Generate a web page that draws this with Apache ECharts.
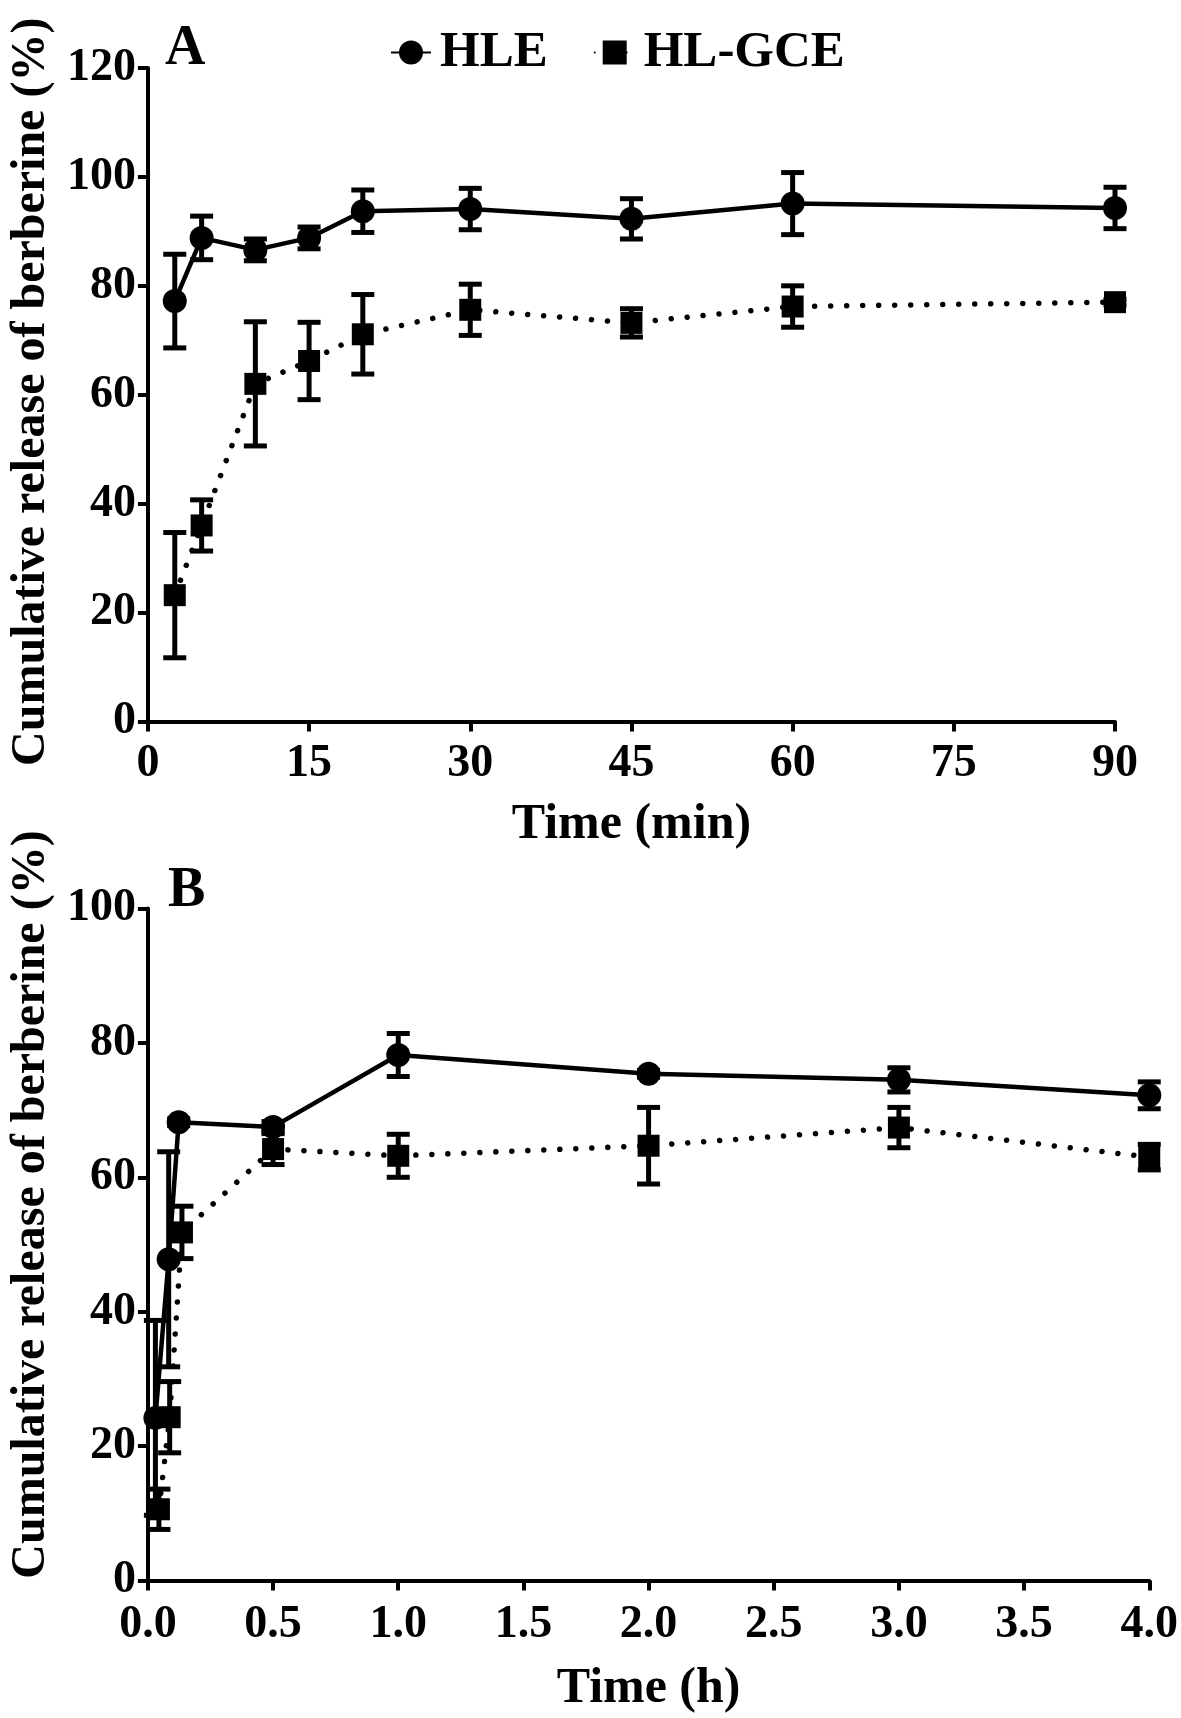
<!DOCTYPE html>
<html>
<head>
<meta charset="utf-8">
<script src="https://cdn.jsdelivr.net/npm/echarts@6/dist/echarts.min.js"></script>
<style>
html,body{margin:0;padding:0;background:#fff;}
#c{width:1181px;height:1718px;}
</style>
</head>
<body>
<div id="c"></div>
<script>
// ---------- Data ----------
const seriesNames = ['HLE', 'HL-GCE'];
// Panel A (minutes)
const timeA = [2.5, 5, 10, 15, 20, 30, 45, 60, 90];
const hleA = [77.2, 88.8, 86.6, 88.8, 93.7, 94.1, 92.3, 95.1, 94.3];
const hleAErr = [8.6, 4.0, 2.0, 2.0, 3.9, 3.8, 3.7, 5.7, 3.8];
const gceA = [23.2, 36.0, 62.0, 66.2, 71.1, 75.6, 73.2, 76.2, 77.0];
const gceAErr = [11.5, 4.7, 11.4, 7.1, 7.3, 4.7, 2.6, 3.8, 0.5];
// Panel B (hours)
const timeBHle = [0.03, 0.083, 0.123, 0.5, 1, 2, 3, 4];
const hleB = [24.2, 47.8, 68.2, 67.5, 78.2, 75.4, 74.5, 72.2];
const hleBErr = [14.5, 16.0, 0.5, 0.8, 3.2, 0.5, 1.8, 2.0];
const timeBGce = [0.044, 0.087, 0.136, 0.5, 1, 2, 3, 4];
const gceB = [10.6, 24.3, 51.8, 64.2, 63.2, 64.7, 67.4, 63.0];
const gceBErr = [3.0, 5.3, 3.9, 2.3, 3.2, 5.7, 3.0, 1.9];
// Axis ticks
const xTicksA = {min: 0, max: 90, interval: 15};
const yTicksA = {min: 0, max: 120, interval: 20};
const xTicksB = {min: 0, max: 4, interval: 0.5};
const yTicksB = {min: 0, max: 100, interval: 20};
const panelLabels = ['A', 'B'];
const xTitles = ['Time (min)', 'Time (h)'];
const yTitle = 'Cumulative release of berberine (%)';

// ---------- Helpers ----------
const FONT = '"Liberation Serif", "Times New Roman", serif';
const pts = (xs, ys) => xs.map((x, i) => [x, ys[i]]);
const errPts = (xs, ys, es) => xs.map((x, i) => [x, ys[i], es[i]]);

function errRender(params, api) {
  const x = api.value(0), y = api.value(1), e = api.value(2);
  const hi = api.coord([x, y + e]);
  const lo = api.coord([x, y - e]);
  const cw = 23;
  const st = {stroke: '#000', lineWidth: 5};
  return {
    type: 'group',
    children: [
      {type: 'line', shape: {x1: hi[0], y1: hi[1], x2: lo[0], y2: lo[1]}, style: st},
      {type: 'line', shape: {x1: hi[0] - cw / 2, y1: hi[1], x2: hi[0] + cw / 2, y2: hi[1]}, style: st},
      {type: 'line', shape: {x1: lo[0] - cw / 2, y1: lo[1], x2: lo[0] + cw / 2, y2: lo[1]}, style: st}
    ]
  };
}

const axisLineStyle = {show: true, lineStyle: {color: '#000', width: 4}};
const axisTickStyle = {show: true, inside: false, length: 10, lineStyle: {color: '#000', width: 4}};
const tickLabel = (margin, fmt) => ({
  color: '#000', fontFamily: FONT, fontWeight: 'bold', fontSize: 46, margin: margin,
  formatter: fmt
});

function makeX(idx, t, title, margin, gap, fmt) {
  return {
    type: 'value', gridIndex: idx, min: t.min, max: t.max, interval: t.interval,
    axisLine: axisLineStyle, axisTick: axisTickStyle, splitLine: {show: false},
    axisLabel: tickLabel(margin, fmt),
    name: title, nameLocation: 'middle', nameGap: gap,
    nameTextStyle: {color: '#000', fontFamily: FONT, fontWeight: 'bold', fontSize: 50}
  };
}
function makeY(idx, t, gap, pad) {
  return {
    type: 'value', gridIndex: idx, min: t.min, max: t.max, interval: t.interval,
    axisLine: axisLineStyle, axisTick: axisTickStyle, splitLine: {show: false},
    axisLabel: tickLabel(12),
    name: yTitle, nameLocation: 'middle', nameGap: gap, nameRotate: 90,
    nameTextStyle: {color: '#000', fontFamily: FONT, fontWeight: 'bold', fontSize: 48, padding: pad}
  };
}

const hleLine = {color: '#000', width: 4.5};
const gceLine = {color: '#000', width: 5.5, type: [0.01, 16], cap: 'round'};

function lineSeries(name, idx, data, symbol, size, ls) {
  return {
    type: 'line', name: name, xAxisIndex: idx, yAxisIndex: idx, data: data,
    symbol: symbol, symbolSize: size, showSymbol: true,
    itemStyle: {color: '#000'}, lineStyle: ls, z: 3, animation: false
  };
}
function errSeries(idx, data) {
  return {
    type: 'custom', name: 'err', xAxisIndex: idx, yAxisIndex: idx, data: data,
    renderItem: errRender, encode: {x: 0, y: 1}, z: 2, animation: false, silent: true
  };
}

const chart = echarts.init(document.getElementById('c'), null, {renderer: 'canvas'});
chart.setOption({
  backgroundColor: '#fff',
  animation: false,
  grid: [
    {left: 133, right: 66, top: 68, height: 653.5},
    {left: 139, right: 31, top: 908.5, height: 672}
  ],
  legend: {
    data: seriesNames, left: 385, top: 22, itemWidth: 40, itemHeight: 30, itemGap: 46,
    textStyle: {color: '#000', fontFamily: FONT, fontWeight: 'bold', fontSize: 51, padding: [0, 0, 0, 4]}
  },
  graphic: [
    {type: 'text', left: 165, top: 22, style: {text: panelLabels[0], fill: '#000', font: 'bold 56px ' + FONT}},
    {type: 'text', left: 168, top: 864, style: {text: panelLabels[1], fill: '#000', font: 'bold 56px ' + FONT}}
  ],
  xAxis: [
    makeX(0, xTicksA, xTitles[0], 20, 79),
    makeX(1, xTicksB, xTitles[1], 22, 84, v => v.toFixed(1))
  ],
  yAxis: [
    makeY(0, yTicksA, 70, [0, 0, 0, 6]),
    makeY(1, yTicksB, 75, [0, 0, 0, 80])
  ],
  series: [
    errSeries(0, errPts(timeA, hleA, hleAErr)),
    errSeries(0, errPts(timeA, gceA, gceAErr)),
    lineSeries(seriesNames[0], 0, pts(timeA, hleA), 'circle', 24, hleLine),
    lineSeries(seriesNames[1], 0, pts(timeA, gceA), 'rect', 22, gceLine),
    errSeries(1, errPts(timeBHle, hleB, hleBErr)),
    errSeries(1, errPts(timeBGce, gceB, gceBErr)),
    lineSeries(seriesNames[0], 1, pts(timeBHle, hleB), 'circle', 24, hleLine),
    lineSeries(seriesNames[1], 1, pts(timeBGce, gceB), 'rect', 22, gceLine)
  ]
});
</script>
</body>
</html>
